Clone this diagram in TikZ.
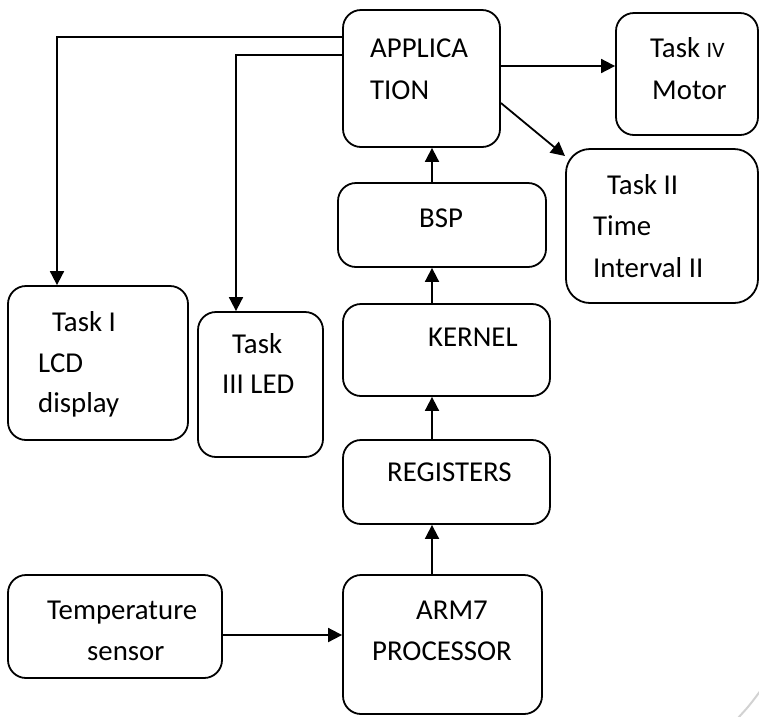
\documentclass[tikz,border=0pt]{standalone}
\usepackage{fontspec}
\setmainfont{Carlito}
\usetikzlibrary{arrows.meta}
\tikzset{
  box/.style={draw, line width=1.8pt, rounded corners=18pt, inner sep=0pt},
  lbl/.style={anchor=base west, inner sep=0pt, font=\fontsize{28.8}{34}\selectfont},
  arr/.style={line width=1.8pt, -{Triangle[length=14pt,width=14pt]}}
}
\newcommand{\boxat}[5]{\node[box, minimum width=#4-#2, minimum height=#5-#3] (#1) at ({(#2+#4)/2},{(#3+#5)/2}) {};}
\begin{document}
\begin{tikzpicture}[x=1pt,y=-1pt]
\useasboundingbox (0,0) rectangle (759,716);
% boxes
\boxat{app}{343}{10}{500}{147}
\boxat{t4}{616}{13}{758}{135}
\node[box, rounded corners=24pt, minimum width=192, minimum height=154] (t2) at (662,226) {};
\boxat{bsp}{338}{183}{546}{267}
\boxat{ker}{343}{304}{550}{396}
\boxat{reg}{343}{440}{550}{524}
\boxat{arm}{343}{575}{542}{714}
\boxat{temp}{8}{575}{222}{678}
\boxat{t1}{8}{286}{188}{440}
\boxat{t3}{198}{312}{323}{457}
% labels
\node[lbl] (l1) at (370,57) {APPLICA};
\node[lbl] (l2) at (370,99) {TION};
\node[lbl] (l3) at (650,57) {Task {\fontsize{22}{26}\selectfont IV}};
\node[lbl] (l4) at (652,99) {Motor};
\node[lbl] (l5) at (607,194) {Task II};
\node[lbl] (l6) at (593,235) {Time};
\node[lbl] (l7) at (593,277) {Interval II};
\node[lbl] (l8) at (419,227) {BSP};
\node[lbl] (l9) at (428,346) {KERNEL};
\node[lbl] (l10) at (387,481) {REGISTERS};
\node[lbl] (l11) at (416,619) {ARM7};
\node[lbl] (l12) at (372,660) {PROCESSOR};
\node[lbl] (l13) at (47,619) {Temperature};
\node[lbl] (l14) at (87,660) {sensor};
\node[lbl] (l15) at (52,331) {Task I};
\node[lbl] (l16) at (38,372) {LCD};
\node[lbl] (l17) at (38,412) {display};
\node[lbl] (l18) at (232,353) {Task};
\node[lbl] (l19) at (222,393) {III LED};
% helper coordinates
\coordinate (c1) at (57,37);
\coordinate (c2) at (236,55);
\coordinate (c3) at (0,66);
\coordinate (c4) at (0,103);
\coordinate (d2) at (565,156);
\coordinate (cx) at (432,0);
\coordinate (c5) at (0,635);
% connectors
\draw[arr] (app.west|-c1) -| (t1.north-|c1);
\draw[arr] (app.west|-c2) -| (t3.north-|c2);
\draw[arr] (app.east|-c3) -- (t4.west|-c3);
\draw[arr] (app.east|-c4) -- (d2);
\draw[arr] (bsp.north-|cx) -- (app.south-|cx);
\draw[arr] (ker.north-|cx) -- (bsp.south-|cx);
\draw[arr] (reg.north-|cx) -- (ker.south-|cx);
\draw[arr] (arm.north-|cx) -- (reg.south-|cx);
\draw[arr] (temp.east|-c5) -- (arm.west|-c5);
% page curl artifact
\draw[gray!35, line width=2pt] (738,718) .. controls (749,706) .. (761,690);
\end{tikzpicture}
\end{document}
